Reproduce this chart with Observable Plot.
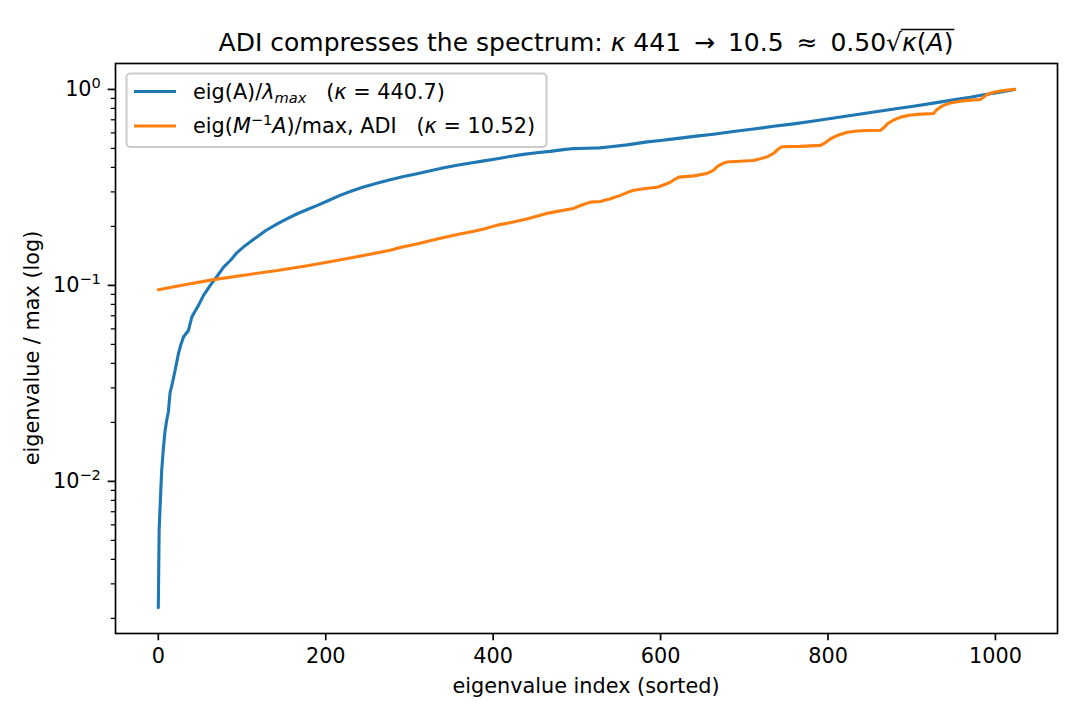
<!DOCTYPE html>
<html>
<head>
<meta charset="utf-8">
<script src="https://cdn.jsdelivr.net/npm/d3@7"></script>
<script src="https://cdn.jsdelivr.net/npm/@observablehq/plot@0.6"></script>
<style>
  body { margin: 0; background: #fff; }
  #chart { width: 1080px; height: 720px; }
  svg text { white-space: pre; }
</style>
</head>
<body>
<div id="chart"></div>
<script>
// Sorted eigenvalues of A, normalised by the largest one
const plainIndex = [0,1,3,4,6,8,10,12,14,17,20,24,27,30,36,40,44,48,54,62,70,78,86,94,104,114,128,142,154,166,178,190,204,217,231,245,261,277,293,309,325,341,357,373,389,405,420,436,452,468,484,496,512,527,540,560,584,600,616,640,663,687,711,735,759,783,807,831,855,879,902,926,950,970,986,1000,1010,1018,1023];
const plainValue = [0.00227,0.00567,0.0091,0.0113,0.0147,0.0180,0.0205,0.0226,0.0283,0.0320,0.0368,0.0448,0.0500,0.0545,0.0589,0.0689,0.0740,0.0791,0.0889,0.100,0.111,0.124,0.134,0.147,0.160,0.172,0.190,0.206,0.219,0.232,0.244,0.256,0.272,0.288,0.303,0.318,0.332,0.346,0.359,0.371,0.385,0.398,0.410,0.421,0.432,0.443,0.455,0.466,0.475,0.483,0.493,0.499,0.501,0.503,0.510,0.521,0.540,0.549,0.559,0.576,0.591,0.610,0.628,0.648,0.667,0.690,0.714,0.740,0.767,0.795,0.821,0.851,0.884,0.912,0.940,0.959,0.977,0.990,1.0];

// Sorted eigenvalues of the ADI-preconditioned operator M^-1 A, normalised
const adiIndex = [0,33,66,104,142,178,213,245,277,289,310,337,360,377,389,405,420,440,464,480,496,506,516,528,540,552,562,568,582,596,605,612,618,622,640,655,663,668,674,679,695,711,727,735,741,745,767,791,797,803,812,823,835,847,863,867,871,879,887,897,907,926,930,934,938,946,958,970,982,986,990,998,1006,1015,1023];
const adiValue = [0.0951,0.101,0.107,0.113,0.119,0.126,0.134,0.142,0.151,0.156,0.163,0.174,0.183,0.189,0.194,0.203,0.209,0.218,0.233,0.240,0.247,0.257,0.266,0.268,0.277,0.288,0.300,0.306,0.312,0.317,0.327,0.337,0.350,0.357,0.362,0.372,0.386,0.405,0.418,0.426,0.430,0.434,0.452,0.472,0.498,0.510,0.512,0.518,0.535,0.560,0.584,0.605,0.614,0.617,0.619,0.640,0.668,0.700,0.722,0.738,0.746,0.753,0.788,0.810,0.829,0.852,0.871,0.882,0.889,0.915,0.943,0.966,0.981,0.994,1.0];

const xTicks = [0, 200, 400, 600, 800, 1000];
const yTicks = [0.01, 0.1, 1];
const yMinorTicks = [0.002,0.003,0.004,0.005,0.006,0.007,0.008,0.009,
                     0.02,0.03,0.04,0.05,0.06,0.07,0.08,0.09,
                     0.2,0.3,0.4,0.5,0.6,0.7,0.8,0.9];

const BLUE = "#1f77b4", ORANGE = "#ff7f0e";
const FONT = "DejaVu Sans";

const rows = (idx, val) => idx.map((i, k) => ({i, v: val[k]}));
const plainRows = rows(plainIndex, plainValue);
const adiRows = rows(adiIndex, adiValue);

// 5% padding on each side, in data units for x and in decades for y
const n = Math.max(...plainIndex, ...adiIndex);
const xDomain = [-0.05 * n, 1.05 * n];
const vMin = Math.min(...plainValue, ...adiValue), vMax = Math.max(...plainValue, ...adiValue);
const pad = 0.05 * Math.log10(vMax / vMin);
const yDomain = [vMin / 10 ** pad, vMax * 10 ** pad];

const chart = Plot.plot({
  width: 1080, height: 720,
  marginLeft: 115, marginRight: 23, marginTop: 63, marginBottom: 87,
  style: {fontFamily: FONT, fontSize: "20.8px", color: "#000", background: "#fff"},
  x: {domain: xDomain, label: null},
  y: {type: "log", domain: yDomain, label: null},
  marks: [
    Plot.line(plainRows, {x: "i", y: "v", stroke: BLUE, strokeWidth: 3.1, strokeLinejoin: "round"}),
    Plot.line(adiRows, {x: "i", y: "v", stroke: ORANGE, strokeWidth: 3.1, strokeLinejoin: "round"}),
    Plot.axisX({ticks: xTicks, tickSize: 7.3, tickPadding: 7.3, strokeWidth: 1.67, label: null, tickFormat: d => String(d)}),
    Plot.axisY({ticks: yMinorTicks, tickSize: 4.2, strokeWidth: 1.25, label: null, tickFormat: () => ""}),
    Plot.axisY({ticks: yTicks, tickSize: 7.3, tickPadding: 7.3, strokeWidth: 1.67, label: null,
                tickFormat: d => "10^" + Math.round(Math.log10(d))}),
    Plot.frame({stroke: "#000", strokeWidth: 1.67})
  ]
});
document.getElementById("chart").appendChild(chart);

const svg = d3.select(chart);

// Power-of-ten tick labels with a raised exponent
svg.selectAll("text").filter(function () { return /^10\^/.test(this.textContent); }).each(function () {
  const e = this.textContent.slice(3).replace("-", "\u2212");
  const t = d3.select(this);
  t.text("");
  t.append("tspan").text("10");
  t.append("tspan").attr("dy", -8.5).attr("font-size", "14.6px").text(e);
});

// Title
const title = svg.append("text")
  .attr("x", 586).attr("y", 50.5).attr("text-anchor", "middle")
  .attr("font-family", FONT).attr("font-size", "25px").attr("fill", "#000");
title.append("tspan").text("ADI compresses the spectrum: ");
title.append("tspan").attr("font-style", "italic").text("\u03ba");
title.append("tspan").text(" 441 \u2009\u2192\u2009 10.5 \u2009\u2248\u2009 0.50");
title.append("tspan").text("\u221a");
title.append("tspan").attr("font-style", "italic").text("\u03ba");
title.append("tspan").text("(");
title.append("tspan").attr("font-style", "italic").text("A");
title.append("tspan").text(")");
{
  const node = title.node();
  const s = node.textContent;
  const r = s.indexOf("\u221a");
  const root = node.getExtentOfChar(r);
  const last = node.getExtentOfChar(s.length - 1);
  const yTop = root.y + 2;
  svg.append("line")
    .attr("x1", root.x + root.width - 1.2).attr("x2", last.x + last.width + 1)
    .attr("y1", yTop).attr("y2", yTop)
    .attr("stroke", "#000").attr("stroke-width", 1.6);
}

// Axis labels
svg.append("text").attr("x", 586).attr("y", 693).attr("text-anchor", "middle")
  .attr("font-family", FONT).attr("font-size", "20.8px").text("eigenvalue index (sorted)");
svg.append("text").attr("transform", "translate(39,348) rotate(-90)").attr("text-anchor", "middle")
  .attr("font-family", FONT).attr("font-size", "20.8px").text("eigenvalue / max (log)");

// Legend
const lg = svg.append("g").attr("font-family", FONT).attr("font-size", "20.8px").attr("text-anchor", "start");
lg.append("rect").attr("x", 126.5).attr("y", 73.5).attr("width", 420).attr("height", 73.5).attr("rx", 4)
  .attr("fill", "#fff").attr("fill-opacity", 0.8).attr("stroke", "#cccccc").attr("stroke-width", 2);
lg.append("line").attr("x1", 134).attr("x2", 176).attr("y1", 91.5).attr("y2", 91.5)
  .attr("stroke", BLUE).attr("stroke-width", 3.1);
lg.append("line").attr("x1", 134).attr("x2", 176).attr("y1", 126).attr("y2", 126)
  .attr("stroke", ORANGE).attr("stroke-width", 3.1);

const t1 = lg.append("text").attr("x", 193).attr("y", 98.5).attr("text-anchor", "start");
t1.append("tspan").text("eig(A)/");
t1.append("tspan").attr("font-style", "italic").text("\u03bb");
t1.append("tspan").attr("font-style", "italic").attr("font-size", "14.6px").attr("dy", 4.5).text("max");
t1.append("tspan").attr("dy", -4.5).text("   (");
t1.append("tspan").attr("font-style", "italic").text("\u03ba");
t1.append("tspan").text(" = 440.7)");

const t2 = lg.append("text").attr("x", 193).attr("y", 133).attr("text-anchor", "start");
t2.append("tspan").text("eig(");
t2.append("tspan").attr("font-style", "italic").text("M");
t2.append("tspan").attr("font-size", "14.6px").attr("dy", -8.5).text("\u22121");
t2.append("tspan").attr("font-style", "italic").attr("dy", 8.5).text("A");
t2.append("tspan").text(")/max, ADI   (");
t2.append("tspan").attr("font-style", "italic").text("\u03ba");
t2.append("tspan").text(" = 10.52)");
</script>
</body>
</html>
